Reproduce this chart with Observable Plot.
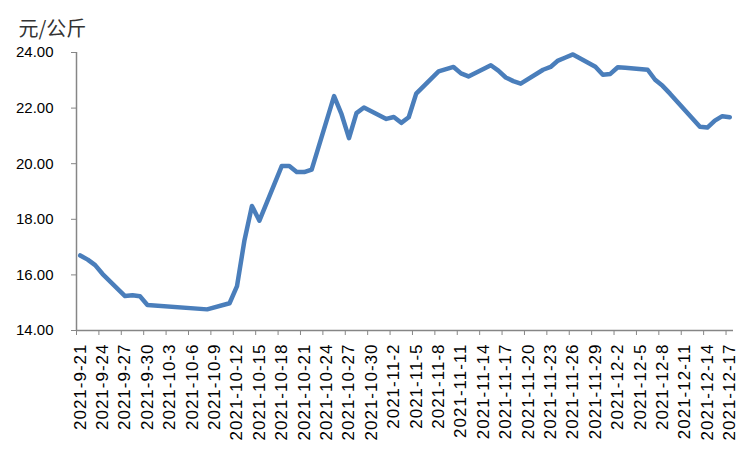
<!DOCTYPE html>
<html>
<head>
<meta charset="utf-8">
<script src="https://cdn.jsdelivr.net/npm/d3@7"></script>
<script src="https://cdn.jsdelivr.net/npm/@observablehq/plot@0.6"></script>
<style>
  html, body { margin: 0; padding: 0; background: #fff; }
  g[aria-label="x-axis tick label"] text { letter-spacing: 1px; }
</style>
</head>
<body>
<div id="chart"></div>
<script>
const dates = [
  "2021-09-21","2021-09-22","2021-09-23","2021-09-24","2021-09-27","2021-09-28","2021-09-29","2021-09-30",
  "2021-10-08","2021-10-11","2021-10-12","2021-10-13","2021-10-14","2021-10-15","2021-10-18","2021-10-19",
  "2021-10-20","2021-10-21","2021-10-22","2021-10-25","2021-10-26","2021-10-27","2021-10-28","2021-10-29",
  "2021-11-01","2021-11-02","2021-11-03","2021-11-04","2021-11-05","2021-11-08","2021-11-09","2021-11-10",
  "2021-11-11","2021-11-12","2021-11-15","2021-11-16","2021-11-17","2021-11-18","2021-11-19","2021-11-22",
  "2021-11-23","2021-11-24","2021-11-25","2021-11-26","2021-11-29","2021-11-30","2021-12-01","2021-12-02",
  "2021-12-03","2021-12-06","2021-12-07","2021-12-08","2021-12-09","2021-12-10","2021-12-13","2021-12-14",
  "2021-12-15","2021-12-16","2021-12-17"
];
const prices = [
  16.70,16.55,16.35,16.03,15.24,15.27,15.23,14.92,
  14.76,14.98,15.60,17.25,18.48,17.95,19.92,19.92,
  19.70,19.70,19.79,22.43,21.78,20.92,21.82,22.02,
  21.61,21.68,21.47,21.67,22.52,23.32,23.40,23.48,
  23.25,23.14,23.54,23.35,23.10,22.97,22.88,23.38,
  23.48,23.71,23.82,23.93,23.49,23.20,23.23,23.47,
  23.45,23.38,23.02,22.80,22.52,22.22,21.33,21.30,
  21.55,21.71,21.67
];
const xLabels = [
  "2021-9-21","2021-9-24","2021-9-27","2021-9-30","2021-10-3","2021-10-6","2021-10-9","2021-10-12",
  "2021-10-15","2021-10-18","2021-10-21","2021-10-24","2021-10-27","2021-10-30","2021-11-2","2021-11-5",
  "2021-11-8","2021-11-11","2021-11-14","2021-11-17","2021-11-20","2021-11-23","2021-11-26","2021-11-29",
  "2021-12-2","2021-12-5","2021-12-8","2021-12-11","2021-12-14","2021-12-17"
];
const yTicks = [14, 16, 18, 20, 22, 24];
const unitLabel = "元/公斤";

const parse = d3.utcParse("%Y-%m-%d");
const start = parse("2021-09-21");
const end = parse("2021-12-18");
const mid = d => d3.utcHour.offset(d, 12);

const data = dates.map((d, i) => ({date: mid(parse(d)), value: prices[i]}));
const tickStarts = d3.utcDay.range(start, end).filter((d, i) => i % 3 === 0);
const tickCenters = tickStarts.map(mid);
const labelMap = new Map(tickCenters.map((d, i) => [+d, xLabels[i]]));

const gray = "#868686";
const font = "'Liberation Sans', Arial, sans-serif";

const chart = Plot.plot({
  width: 751,
  height: 450,
  marginLeft: 76,
  marginRight: 18,
  marginTop: 52,
  marginBottom: 120,
  style: {fontFamily: font, fontSize: "15px", color: "#000", background: "#fff"},
  x: {type: "utc", domain: [start, end]},
  y: {domain: [14, 24]},
  marks: [
    Plot.axisY(yTicks, {tickSize: 5, tickPadding: 18, stroke: gray, tickFormat: d3.format(".2f"), fontSize: 15, fill: "#000", label: null}),
    Plot.axisX(tickStarts, {tickSize: 5, stroke: gray, tickFormat: () => "", label: null}),
    Plot.axisX(tickCenters, {tickSize: 0, tickPadding: 13, tickRotate: -90, tickFormat: d => labelMap.get(+d), fontSize: 17, fill: "#000", label: null}),
    Plot.ruleX([start], {stroke: gray, strokeWidth: 1.5}),
    Plot.ruleY([14], {stroke: gray, strokeWidth: 1.5}),
    Plot.line(data, {x: "date", y: "value", stroke: "#4a7ebb", strokeWidth: 4.5, strokeLinejoin: "round", strokeLinecap: "round"}),
    Plot.text([unitLabel], {text: d => d, frameAnchor: "top-left", dx: -58, dy: -31, textAnchor: "start", fontSize: 20, fontFamily: "'Noto Sans CJK SC', sans-serif", fill: "#333"})
  ]
});
document.getElementById("chart").appendChild(chart);
</script>
</body>
</html>
